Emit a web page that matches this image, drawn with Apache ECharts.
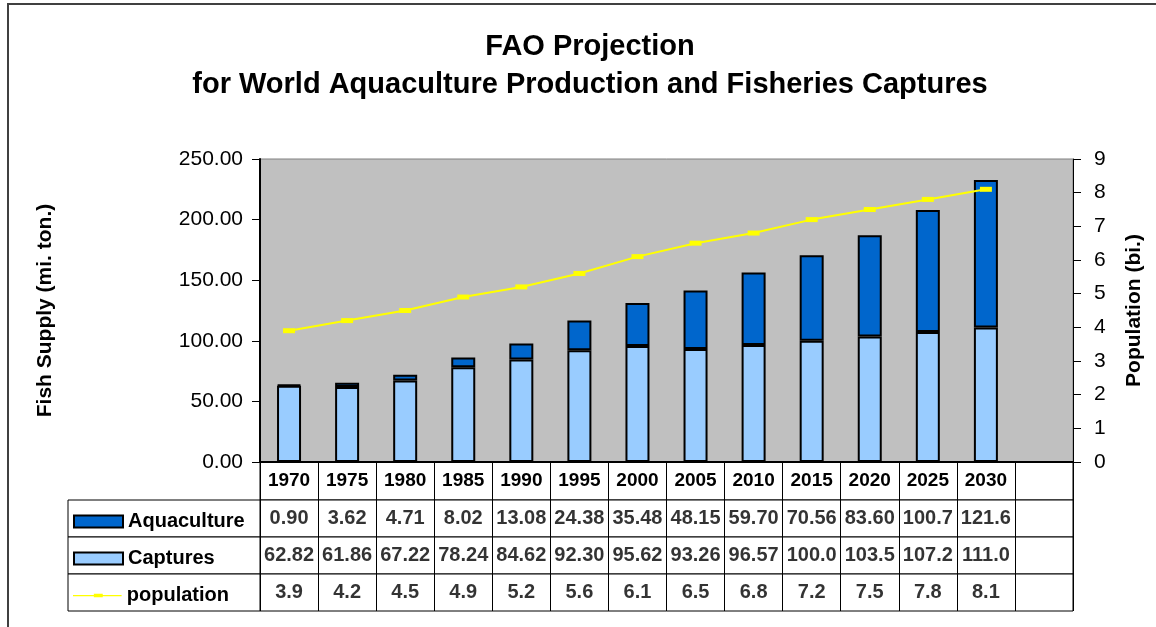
<!DOCTYPE html>
<html>
<head>
<meta charset="utf-8">
<script src="https://cdn.jsdelivr.net/npm/echarts@6/dist/echarts.min.js"></script>
<style>
html,body{margin:0;padding:0;background:#fff;}
#c{width:1156px;height:627px;}
</style>
</head>
<body>
<div id="c"></div>
<script>
const years = ['1970','1975','1980','1985','1990','1995','2000','2005','2010','2015','2020','2025','2030',''];
const aquaculture = [0.90, 3.62, 4.71, 8.02, 13.08, 24.38, 35.48, 48.15, 59.70, 70.56, 83.60, 100.7, 121.6];
const captures = [62.82, 61.86, 67.22, 78.24, 84.62, 92.30, 95.62, 93.26, 96.57, 100.0, 103.5, 107.2, 111.0];
const population = [3.9, 4.2, 4.5, 4.9, 5.2, 5.6, 6.1, 6.5, 6.8, 7.2, 7.5, 7.8, 8.1];
const leftTicks = [0, 250, 50];
const rightTicks = [0, 9, 1];

const FONT = '"Liberation Sans", Arial, sans-serif';
const fmtSupply = v => (v >= 100 ? v.toFixed(1) : v.toFixed(2));
const fmtPop = v => v.toFixed(1);
const pad = arr => arr.concat(new Array(years.length - arr.length).fill(null));

const rowNames = ['Aquaculture', 'Captures', 'population'];
const rowLabels = [aquaculture.map(fmtSupply), captures.map(fmtSupply), population.map(fmtPop)];

const PL = 260, PR = 1073, PT = 159, PB = 462;
const HEAD_H = 38, ROW_H = 37, TL = 68;
const lineColor = '#000';

const grids = [
  {left: PL, top: PT, width: PR - PL, height: PB - PT, show: true, backgroundColor: '#C0C0C0', borderColor: '#808080', borderWidth: 1},
  {left: PL, top: PB, width: PR - PL, height: HEAD_H, show: true, backgroundColor: '#fff', borderColor: lineColor, borderWidth: 1}
];
for (let r = 0; r < 3; r++) {
  grids.push({left: PL, top: PB + HEAD_H + ROW_H * r, width: PR - PL, height: ROW_H, show: true, backgroundColor: '#fff', borderColor: lineColor, borderWidth: 1});
}
for (let r = 0; r < 3; r++) {
  grids.push({left: TL, top: PB + HEAD_H + ROW_H * r, width: PL - TL, height: ROW_H, show: true, backgroundColor: '#fff', borderColor: lineColor, borderWidth: 1});
}

const hiddenCat = (gi, split) => ({
  type: 'category', gridIndex: gi, data: years, boundaryGap: true,
  axisLine: {show: false}, axisTick: {show: false}, axisLabel: {show: false},
  splitLine: {show: split, interval: 0, lineStyle: {color: lineColor, width: 1}}
});
const hiddenVal = gi => ({
  type: 'value', gridIndex: gi, min: 0, max: 1,
  axisLine: {show: false}, axisTick: {show: false}, axisLabel: {show: false}, splitLine: {show: false}
});

const xAxes = [{
  type: 'category', gridIndex: 0, data: years, boundaryGap: true,
  axisLine: {show: true, lineStyle: {color: '#000', width: 2}},
  axisTick: {show: true, interval: 0, length: 5, lineStyle: {color: '#000'}},
  axisLabel: {show: true, interval: 0, margin: 9, color: '#000', fontFamily: FONT, fontWeight: 'bold', fontSize: 19},
  splitLine: {show: false}
}, hiddenCat(1, true)];
for (let r = 0; r < 3; r++) xAxes.push(hiddenCat(2 + r, true));
for (let r = 0; r < 3; r++) xAxes.push(hiddenCat(5 + r, false));

const yAxes = [{
  type: 'value', gridIndex: 0, position: 'left',
  min: leftTicks[0], max: leftTicks[1], interval: leftTicks[2],
  name: 'Fish Supply (mi. ton.)', nameLocation: 'middle', nameRotate: 90, nameGap: 204,
  nameTextStyle: {color: '#000', fontFamily: FONT, fontWeight: 'bold', fontSize: 21},
  axisLine: {show: true, lineStyle: {color: '#000', width: 2}},
  axisTick: {show: true, length: 8, lineStyle: {color: '#000'}},
  axisLabel: {color: '#000', fontFamily: FONT, fontSize: 21, margin: 17, formatter: v => v.toFixed(2)},
  splitLine: {show: false}
}, {
  type: 'value', gridIndex: 0, position: 'right',
  min: rightTicks[0], max: rightTicks[1], interval: rightTicks[2],
  name: 'Population (bi.)', nameLocation: 'middle', nameRotate: 90, nameGap: 51,
  nameTextStyle: {color: '#000', fontFamily: FONT, fontWeight: 'bold', fontSize: 21},
  axisLine: {show: true, lineStyle: {color: '#000', width: 1}},
  axisTick: {show: true, length: 8, lineStyle: {color: '#000'}},
  axisLabel: {color: '#000', fontFamily: FONT, fontSize: 21, margin: 21},
  splitLine: {show: false}
}, hiddenVal(1)];
for (let r = 0; r < 3; r++) yAxes.push(hiddenVal(2 + r));
for (let r = 0; r < 3; r++) yAxes.push(hiddenVal(5 + r));

const series = [{
  name: 'Captures', type: 'bar', stack: 'supply', xAxisIndex: 0, yAxisIndex: 0,
  barWidth: 24, data: pad(captures),
  itemStyle: {color: '#99CCFF', borderColor: '#000', borderWidth: 2}
}, {
  name: 'Aquaculture', type: 'bar', stack: 'supply', xAxisIndex: 0, yAxisIndex: 0,
  barWidth: 24, data: pad(aquaculture),
  itemStyle: {color: '#0066CC', borderColor: '#000', borderWidth: 2}
}, {
  name: 'population', type: 'line', xAxisIndex: 0, yAxisIndex: 1,
  data: pad(population), symbol: 'rect', symbolSize: [12, 5], z: 5,
  lineStyle: {color: '#FFFF00', width: 2},
  itemStyle: {color: '#FFFF00', borderWidth: 0}
}];
for (let r = 0; r < 3; r++) {
  series.push({
    type: 'scatter', xAxisIndex: 2 + r, yAxisIndex: 3 + r, symbolSize: 0, silent: true,
    data: rowLabels[r].map((s, i) => [i, 0.5]),
    label: {show: true, position: 'inside', color: '#000', fontFamily: FONT, fontWeight: 'bold', fontSize: 20,
      formatter: p => rowLabels[r][p.dataIndex]}
  });
}

const legendIcons = ['rect', 'rect', 'path://M0,0h0.1v0.1h-0.1z M0,5.5h49v1.2h-49z M21,4.3h9v3.6h-9z M0,12h0.1v0.1h-0.1z'];
const legends = rowNames.map((n, r) => ({
  data: [{name: n, icon: legendIcons[r]}],
  left: 73, top: PB + HEAD_H + ROW_H * r + ROW_H / 2 - 7,
  padding: 0,
  orient: 'vertical', itemWidth: 49, itemHeight: 12, itemGap: 0, selectedMode: false,
  textStyle: {color: '#000', fontFamily: FONT, fontWeight: 'bold', fontSize: 20, lineHeight: 20}
}));

const chart = echarts.init(document.getElementById('c'), null, {renderer: 'canvas'});
chart.setOption({
  animation: false,
  backgroundColor: '#fff',
  title: {
    text: 'FAO Projection\nfor World Aquaculture Production and Fisheries Captures',
    left: 585, top: 23, textAlign: 'center',
    textStyle: {color: '#000', fontFamily: FONT, fontWeight: 'bold', fontSize: 29, lineHeight: 38}
  },
  legend: legends,
  grid: grids,
  xAxis: xAxes,
  yAxis: yAxes,
  series: series,
  graphic: [{
    type: 'rect', silent: true, z: 100,
    shape: {x: 8, y: 4, width: 1200, height: 700},
    style: {fill: 'none', stroke: '#404040', lineWidth: 2}
  }]
});
</script>
</body>
</html>
